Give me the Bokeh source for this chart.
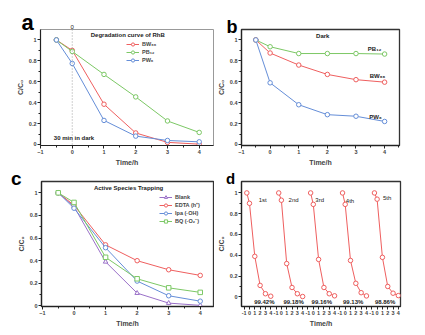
from bokeh.plotting import figure
from bokeh.layouts import column, row
from bokeh.models import (Label, Span, FixedTicker, CustomJSTickFormatter, Range1d)
from bokeh.core.properties import value
from bokeh.embed import file_html
from bokeh.resources import INLINE

FONT = "Liberation Sans"
RED = "#ef5f5f"
GREEN = "#7cc865"
BLUE = "#658ed8"
PURPLE = "#9a70c8"

# ---------------- data ----------------
t = [-0.5, 0, 1, 2, 3, 4]

# panel a: degradation curve of RhB
a_bw66 = [1.0, 0.90, 0.385, 0.11, 0.02, 0.003]
a_pb12 = [1.0, 0.89, 0.67, 0.455, 0.225, 0.115]
a_pw6 = [1.0, 0.775, 0.23, 0.08, 0.038, 0.025]

# panel b: dark
b_pb12 = [1.0, 0.935, 0.87, 0.87, 0.87, 0.865]
b_bw66 = [1.0, 0.875, 0.76, 0.67, 0.62, 0.596]
b_pw6 = [1.0, 0.59, 0.38, 0.285, 0.27, 0.22]

# panel c: active species trapping
c_blank = [1.0, 0.878, 0.39, 0.113, 0.025, 0.005]
c_edta = [1.0, 0.89, 0.54, 0.40, 0.32, 0.27]
c_ipa = [1.0, 0.864, 0.515, 0.22, 0.09, 0.042]
c_bq = [1.0, 0.915, 0.43, 0.24, 0.16, 0.12]

# panel d: recycling runs
d_runs = [
    [1.0, 0.90, 0.39, 0.11, 0.03, 0.006],
    [1.0, 0.93, 0.32, 0.09, 0.03, 0.003],
    [1.0, 0.89, 0.36, 0.09, 0.03, 0.01],
    [1.0, 0.89, 0.35, 0.13, 0.04, 0.009],
    [1.0, 0.94, 0.38, 0.10, 0.035, 0.012],
]
d_run_names = ["1st", "2nd", "3rd", "4th", "5th"]
d_removal = ["99.42%", "99.18%", "99.16%", "99.13%", "98.86%"]
d_cycle = 6

x_ticks = [-1, 0, 1, 2, 3, 4]
x_minor = [-0.5, 0.5, 1.5, 2.5, 3.5, 4.5]
y_ticks = [0, 0.2, 0.4, 0.6, 0.8, 1.0]
y_minor = [0.1, 0.3, 0.5, 0.7, 0.9]

yfmt_code = "var s = tick.toFixed(1); if (s.endsWith('.0')) s = s.slice(0, -2); return s;"


def make_fig(w, h, xr, yr, bl, br, bt, bb, outline="#333333", ow=1.3):
    p = figure(width=w, height=h, x_range=Range1d(*xr), y_range=Range1d(*yr),
               output_backend="svg", toolbar_location=None,
               min_border_left=bl, min_border_right=br,
               min_border_top=bt, min_border_bottom=bb)
    p.grid.visible = False
    p.outline_line_color = outline
    p.outline_line_width = ow
    p.background_fill_color = "white"
    p.border_fill_color = "white"
    p.border_fill_alpha = 0
    for ax in (p.xaxis[0], p.yaxis[0]):
        ax.axis_line_color = "#222222"
        ax.axis_line_width = 1.2
        ax.major_tick_in = 0
        ax.major_tick_out = 3
        ax.minor_tick_in = 0
        ax.minor_tick_out = 2
        ax.major_tick_line_color = "#222222"
        ax.minor_tick_line_color = "#222222"
        ax.major_label_text_font = FONT
        ax.major_label_text_font_size = "5.5px"
        ax.major_label_text_font_style = "bold"
        ax.major_label_standoff = 1
        ax.axis_label_text_font = FONT
        ax.axis_label_text_font_size = "7px"
        ax.axis_label_text_font_style = "bold"
        ax.axis_label_standoff = 2
    p.xaxis[0].axis_label = "Time/h"
    p.yaxis[0].axis_label = "C/C\u2080"
    p.yaxis[0].ticker = FixedTicker(ticks=y_ticks, minor_ticks=y_minor)
    p.yaxis[0].formatter = CustomJSTickFormatter(code=yfmt_code)
    return p


def letter(p, txt, x, y, size, units="screen"):
    p.add_layout(Label(x=x, y=y, x_units=units, y_units=units, text=txt,
                       text_font=FONT, text_font_size=size, text_font_style="bold",
                       text_color="black", text_baseline="alphabetic"), "above")


def series(p, y, color, marker, label=None):
    kw = {"legend_label": label} if label else {}
    p.line(t, y, line_color=color, line_width=1, **kw)
    p.scatter(t, y, marker=marker, size=4.5, line_color=color, fill_color="white",
              line_width=1, **kw)


def txt(p, x, y, s, size="6px", bold=True, align="center"):
    p.text(x=[x], y=[y], text=[s], text_font=value(FONT), text_font_size=size,
           text_font_style="bold" if bold else "normal", text_align=align,
           text_baseline="middle", text_color="#222222")


def style_legend(p, loc):
    lg = p.legend[0]
    lg.location = loc
    lg.margin = 0
    lg.padding = 0
    lg.spacing = 0
    lg.background_fill_alpha = 0
    lg.border_line_alpha = 0
    lg.label_text_font = FONT
    lg.label_text_font_size = "5.5px"
    lg.label_text_font_style = "bold"
    lg.label_height = 8
    lg.glyph_height = 8
    lg.glyph_width = 13
    lg.label_standoff = 3


# ---------------- panel a ----------------
pa = make_fig(214, 168, (-1, 4.45), (-0.01, 1.1), 40, 1, 29, 19, outline="#999999", ow=1)
pa.xaxis[0].ticker = FixedTicker(ticks=x_ticks, minor_ticks=x_minor)
pa.add_layout(Span(location=0, dimension="height", line_color="#888888",
                   line_dash="1 2", line_width=0.8))
series(pa, a_bw66, RED, "circle", "BW\u2086\u2086")
series(pa, a_pb12, GREEN, "circle", "PB\u2081\u2082")
series(pa, a_pw6, BLUE, "circle", "PW\u2086")
style_legend(pa, (86, 81))
txt(pa, 1.75, 1.045, "Degradation curve of RhB")
txt(pa, -0.58, 0.06, "30 min in dark", align="left")
pa.add_layout(Label(x=0, y=1, x_units="data", y_units="screen", text="0",
                    text_font=FONT, text_font_size="6px", text_align="center",
                    text_baseline="bottom", text_color="#222222"), "above")
letter(pa, "a", -19, 3, "22px")

# ---------------- panel b ----------------
pb = make_fig(211, 168, (-1, 4.52), (-0.01, 1.1), 23, 26, 29, 18)
pb.xaxis[0].ticker = FixedTicker(ticks=x_ticks, minor_ticks=x_minor)
series(pb, b_pb12, GREEN, "circle")
series(pb, b_bw66, RED, "circle")
series(pb, b_pw6, BLUE, "circle")
txt(pb, 1.84, 1.037, "Dark")
txt(pb, 3.65, 0.915, "PB\u2081\u2082")
txt(pb, 3.75, 0.655, "BW\u2086\u2086")
txt(pb, 3.68, 0.262, "PW\u2086")
letter(pb, "b", -15, 3, "18px")

# ---------------- panel c ----------------
pc = make_fig(214, 182, (-1.03, 4.42), (-0.005, 1.1), 41, 1, 28, 25)
pc.xaxis[0].ticker = FixedTicker(ticks=x_ticks, minor_ticks=x_minor)
series(pc, c_blank, PURPLE, "triangle", "Blank")
series(pc, c_edta, RED, "circle", "EDTA (h\u207a)")
series(pc, c_ipa, BLUE, "circle", "Ipa (\u00b7OH)")
series(pc, c_bq, GREEN, "square", "BQ (\u00b7O\u2082\u207b)")
style_legend(pc, (118, 81))
txt(pc, 1.73, 1.04, "Active Species Trapping")
letter(pc, "c", -2.0, 1.125, "19px", units="data")

# ---------------- panel d ----------------
pd_ = make_fig(211, 182, (-1.5, 28.4), (-0.093, 1.11), 23, 25, 28, 29)
d_ticks = [k * d_cycle + v for k in range(len(d_runs)) for v in x_ticks]
pd_.xaxis[0].ticker = FixedTicker(ticks=d_ticks, minor_ticks=[])
pd_.xaxis[0].formatter = CustomJSTickFormatter(
    code="var r = Math.round(tick + 1) %% %d; return String(r - 1);" % d_cycle)
name_pos = [(2.5, 0.93), (8.3, 0.93), (13.2, 0.93), (18.9, 0.92), (25.9, 0.955)]
pct_x = [2.8, 8.3, 13.6, 19.5, 25.5]
for k, run in enumerate(d_runs):
    xs = [v + k * d_cycle for v in t]
    pd_.line(xs, run, line_color=RED, line_width=1)
    pd_.scatter(xs, run, marker="circle", size=4.5, line_color=RED,
                fill_color="white", line_width=1)
    txt(pd_, name_pos[k][0], name_pos[k][1], d_run_names[k], bold=False)
    txt(pd_, pct_x[k], -0.045, d_removal[k])
letter(pd_, "d", -4.4, 1.14, "15px", units="data")

layout = column(row(pa, pb), row(pc, pd_, margin=(-15, 0, 0, 0)))
open("out.html", "w").write(file_html(layout, INLINE))
